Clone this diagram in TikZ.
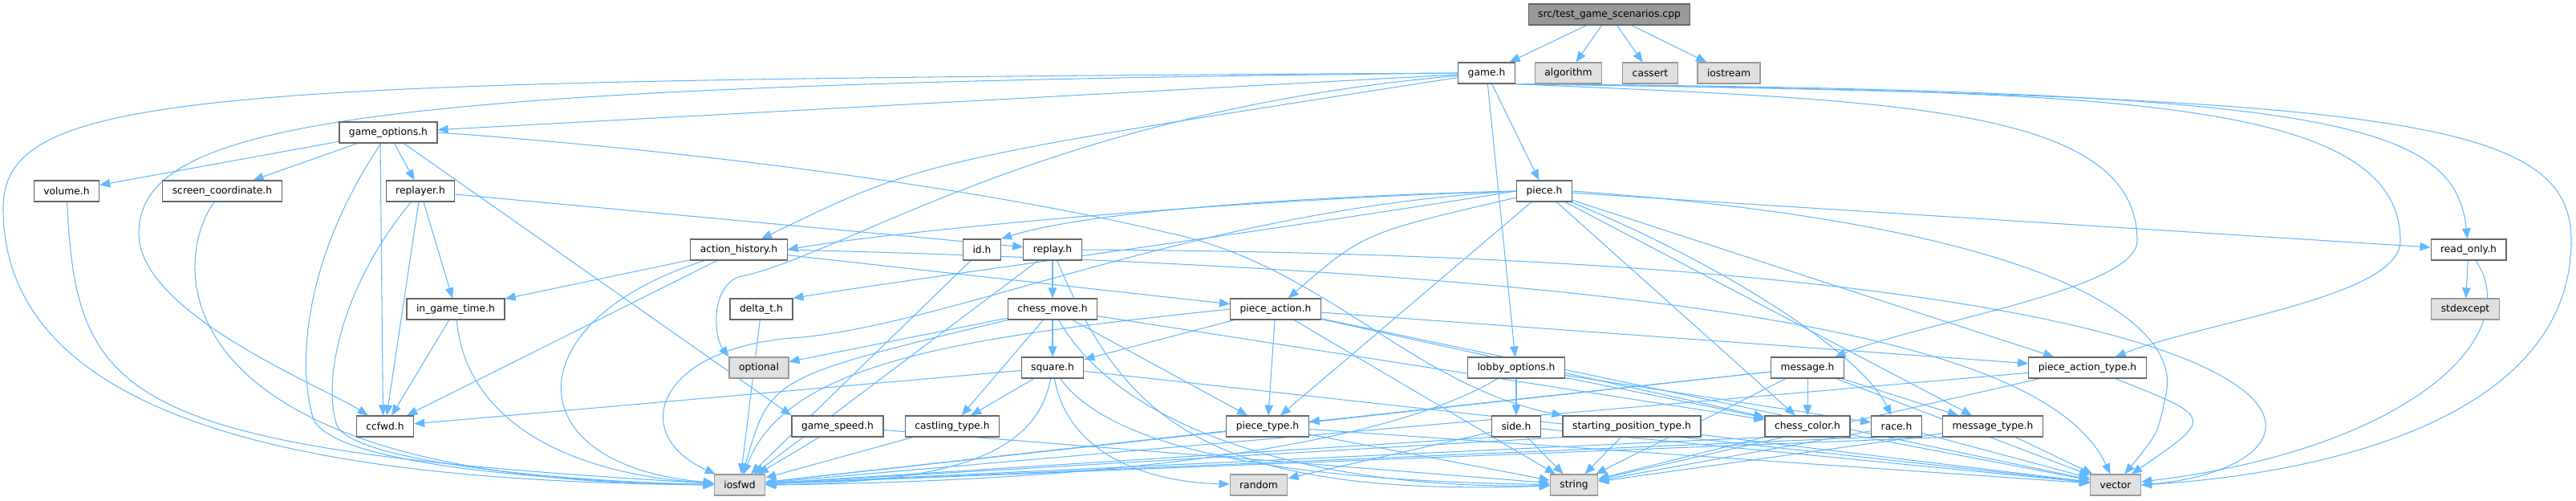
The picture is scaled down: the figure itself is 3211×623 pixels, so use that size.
\documentclass[tikz,border=0pt]{standalone}
\usepackage{fontspec}
\setmainfont{DejaVu Sans}
\usetikzlibrary{arrows.meta}
\definecolor{edgeblue}{HTML}{63B8FF}
\definecolor{boxline}{HTML}{666666}
\definecolor{sysline}{HTML}{999999}
\definecolor{sysfill}{HTML}{E0E0E0}
\pgfdeclarelayer{bg}
\pgfsetlayers{bg,main}
\begin{document}
\begin{tikzpicture}[x=0.02cm,y=-0.02cm,
	file/.style={draw=boxline,fill=white,line width=0.7pt,inner xsep=0.24cm,inner ysep=0pt,minimum height=0.52cm,font=\fontsize{7}{8}\selectfont},
	sysfile/.style={file,draw=sysline,fill=sysfill},
	mainfile/.style={file,fill=sysline},
	dep/.style={draw=edgeblue,line width=0.6pt,-{Triangle[length=2.6mm,width=2.1mm]}}]
			\useasboundingbox (0,0) rectangle (3211,623);
			\node [mainfile] (src) at (2006,18) {src/test\_game\_scenarios.cpp};
			\node [file] (game) at (1853,91) {game.h};
			\node [sysfile] (algo) at (1955,91) {algorithm};
			\node [sysfile] (cassert) at (2057,91) {cassert};
			\node [sysfile] (iostream) at (2155,91) {iostream};
			\node [file] (gopt) at (484,165) {game\_options.h};
			\node [file] (volume) at (83,238) {volume.h};
			\node [file] (scoord) at (277,238) {screen\_coordinate.h};
			\node [file] (replayer) at (524,238) {replayer.h};
			\node [file] (piece) at (1925,238) {piece.h};
			\node [file] (ahist) at (921,311) {action\_history.h};
			\node [file] (id) at (1224,311) {id.h};
			\node [file] (replay) at (1312,311) {replay.h};
			\node [file] (ronly) at (3077,311) {read\_only.h};
			\node [file] (igtime) at (568,385) {in\_game\_time.h};
			\node [file] (deltat) at (949,385) {delta\_t.h};
			\node [file] (cmove) at (1312,385) {chess\_move.h};
			\node [file] (paction) at (1590,385) {piece\_action.h};
			\node [sysfile] (stdexc) at (3073,385) {stdexcept};
			\node [sysfile] (optional) at (946,458) {optional};
			\node [file] (square) at (1312,458) {square.h};
			\node [file] (lobby) at (1890,458) {lobby\_options.h};
			\node [file] (message) at (2253,458) {message.h};
			\node [file] (patype) at (2602,458) {piece\_action\_type.h};
			\node [file] (ccfwd) at (480,531) {ccfwd.h};
			\node [file] (gspeed) at (1044,531) {game\_speed.h};
			\node [file] (castling) at (1187,531) {castling\_type.h};
			\node [file] (ptype) at (1580,531) {piece\_type.h};
			\node [file] (side) at (1890,531) {side.h};
			\node [file] (spos) at (2034,531) {starting\_position\_type.h};
			\node [file] (ccolor) at (2253,531) {chess\_color.h};
			\node [file] (race) at (2364,531) {race.h};
			\node [file] (mtype) at (2484,531) {message\_type.h};
			\node [sysfile] (iosfwd) at (922,604) {iosfwd};
			\node [sysfile] (random) at (1569,604) {random};
			\node [sysfile] (string) at (1962,604) {string};
			\node [sysfile] (vector) at (2637,604) {vector};
			\begin{pgfonlayer}{bg}
			\draw [dep] (src) -- (game);
			\draw [dep] (src) -- (algo);
			\draw [dep] (src) -- (cassert);
			\draw [dep] (src) -- (iostream);
			\draw [dep] (game) -- (gopt);
			\draw [dep] (game.west) .. controls (250,100) and (4,110) .. (4,260) .. controls (4,560) and (500,600) .. (iosfwd.west);
			\draw [dep] (game.west) .. controls (450,105) and (175,150) .. (173,290) .. controls (172,390) and (400,480) .. (ccfwd);
			\draw [dep] (game) .. controls (1150,200) .. (ahist);
			\draw [dep] (game) .. controls (1300,140) and (1050,320) .. (920,345) .. controls (885,360) and (890,420) .. (optional.north west);
			\draw [dep] (game) -- (piece);
			\draw [dep] (game) -- (lobby);
			\draw [dep] (game.south east) .. controls (2350,125) and (2664,130) .. (2664,300) .. controls (2664,360) and (2400,400) .. (message);
			\draw [dep] (game.south east) .. controls (2600,115) and (2992,115) .. (2992,300) .. controls (2992,370) and (2750,400) .. (patype);
			\draw [dep] (game.south east) .. controls (2900,112) and (3060,150) .. (ronly);
			\draw [dep] (game.south east) .. controls (3000,120) and (3205,150) .. (3205,300) .. controls (3205,520) and (2900,590) .. (vector.east);
			\draw [dep] (gopt) -- (volume);
			\draw [dep] (gopt) -- (scoord);
			\draw [dep] (gopt) -- (replayer);
			\draw [dep] ([xshift=-0.2cm]gopt.south) -- ([xshift=-0.05cm]ccfwd.north);
			\draw [dep] (gopt) .. controls (380,320) and (370,450) .. (390,520) .. controls (410,580) and (700,600) .. (iosfwd);
			\draw [dep] (gopt) -- (gspeed.north west);
			\draw [dep] (gopt.east) .. controls (900,190) and (1250,240) .. (1456,290) .. controls (1650,330) and (1760,480) .. (spos.north west);
			\draw [dep] (volume) .. controls (95,500) and (150,560) .. (iosfwd);
			\draw [dep] (scoord) .. controls (210,330) and (200,600) .. (iosfwd);
			\draw [dep] (replayer) -- (igtime);
			\draw [dep] (replayer) -- (ccfwd);
			\draw [dep] (replayer) -- (replay);
			\draw [dep] (replayer) .. controls (430,350) and (400,470) .. (420,530) .. controls (440,575) and (700,600) .. (iosfwd);
			\draw [dep] (ahist) -- (igtime);
			\draw [dep] (ahist) -- (ccfwd);
			\draw [dep] (ahist) -- (paction);
			\draw [dep] (ahist) .. controls (640,400) and (640,580) .. (iosfwd);
			\draw [dep] (ahist.east) .. controls (2100,340) and (2550,420) .. (vector);
			\draw [dep] (igtime) -- (ccfwd);
			\draw [dep] (igtime) .. controls (580,520) and (700,590) .. (iosfwd);
			\draw [dep] (deltat) -- (iosfwd);
			\draw [dep] (piece.west) .. controls (1500,250) and (1100,290) .. (ahist.east);
			\draw [dep] (piece.west) .. controls (1600,245) and (1350,265) .. (id.north east);
			\draw [dep] (piece.west) .. controls (1500,300) and (1150,345) .. (deltat.north east);
			\draw [dep] (piece.west) .. controls (1500,260) and (1200,400) .. (1000,420) .. controls (820,430) and (780,540) .. (iosfwd);
			\draw [dep] (piece) .. controls (1700,290) .. (paction);
			\draw [dep] (piece) -- (ptype);
			\draw [dep] (piece) -- (ccolor);
			\draw [dep] (piece) .. controls (2150,330) and (2320,440) .. (race);
			\draw [dep] (piece) -- (mtype);
			\draw [dep] (piece) -- (ronly);
			\draw [dep] (piece) -- (patype);
			\draw [dep] (piece.east) .. controls (2550,280) and (2720,400) .. (2700,490) .. controls (2690,540) .. (vector);
			\draw [dep] (id) -- (iosfwd);
			\draw [dep] (replay) -- (cmove);
			\draw [dep] (replay) -- (iosfwd);
			\draw [dep] (replay) .. controls (1400,520) and (1500,620) .. (string);
			\draw [dep] (replay.east) .. controls (3000,320) and (2950,580) .. (vector.east);
			\draw [dep] (cmove) -- (square);
			\draw [dep] (cmove) -- (castling);
			\draw [dep] (cmove) -- (ptype);
			\draw [dep] (cmove) -- (optional);
			\draw [dep] (cmove) .. controls (960,470) .. (iosfwd);
			\draw [dep] (cmove) .. controls (1400,540) and (1650,610) .. (string);
			\draw [dep] (cmove) -- (ccolor);
			\draw [dep] (square) -- (ccfwd);
			\draw [dep] (square) -- (castling);
			\draw [dep] (square) .. controls (1290,580) and (1150,600) .. (iosfwd.east);
			\draw [dep] (square) .. controls (1330,560) and (1420,600) .. (random);
			\draw [dep] (square) .. controls (1400,580) and (1700,600) .. (string);
			\draw [dep] (square) -- (vector);
			\draw [dep] (paction) -- (square);
			\draw [dep] (paction) -- (ptype);
			\draw [dep] (paction) -- (patype);
			\draw [dep] (paction.west) .. controls (1200,420) and (980,450) .. (iosfwd);
			\draw [dep] (paction) -- (string);
			\draw [dep] (paction) -- (vector);
			\draw [dep] (paction) -- (ccolor);
			\draw [dep] (lobby) -- (side);
			\draw [dep] (lobby) -- (ccolor);
			\draw [dep] (lobby) -- (race);
			\draw [dep] (lobby) .. controls (1700,570) and (1300,600) .. (iosfwd.east);
			\draw [dep] (side.south west) -- (iosfwd);
			\draw [dep] (side) -- (random);
			\draw [dep] (side) -- (string);
			\draw [dep] (side) -- (vector);
			\draw [dep] (spos.south west) -- (iosfwd);
			\draw [dep] (spos) -- (string);
			\draw [dep] (spos) -- (vector);
			\draw [dep] (ccolor.south west) -- (iosfwd);
			\draw [dep] (ccolor) -- (string);
			\draw [dep] (ccolor) -- (vector);
			\draw [dep] (race.south west) -- (iosfwd);
			\draw [dep] (race) -- (string);
			\draw [dep] (race) -- (vector);
			\draw [dep] (mtype.south west) -- (iosfwd);
			\draw [dep] (mtype) -- (string);
			\draw [dep] (mtype) -- (vector);
			\draw [dep] (message) -- (ccolor);
			\draw [dep] (message) -- (mtype);
			\draw [dep] (message) -- (ptype);
			\draw [dep] (message) -- (iosfwd);
			\draw [dep] (message) -- (string);
			\draw [dep] (message) -- (vector);
			\draw [dep] (patype) -- (iosfwd);
			\draw [dep] (patype) -- (string);
			\draw [dep] (patype) .. controls (2760,520) .. (vector);
			\draw [dep] (ptype) -- (iosfwd);
			\draw [dep] (ptype) -- (string);
			\draw [dep] (ptype) -- (vector);
			\draw [dep] (castling) -- (iosfwd);
			\draw [dep] (gspeed) -- (iosfwd);
			\draw [dep] (gspeed) -- (string);
			\draw [dep] (ronly) -- (stdexc);
			\draw [dep] (ronly) .. controls (3150,420) and (3000,560) .. (vector);
			\end{pgfonlayer}
		\end{tikzpicture}
\end{document}
